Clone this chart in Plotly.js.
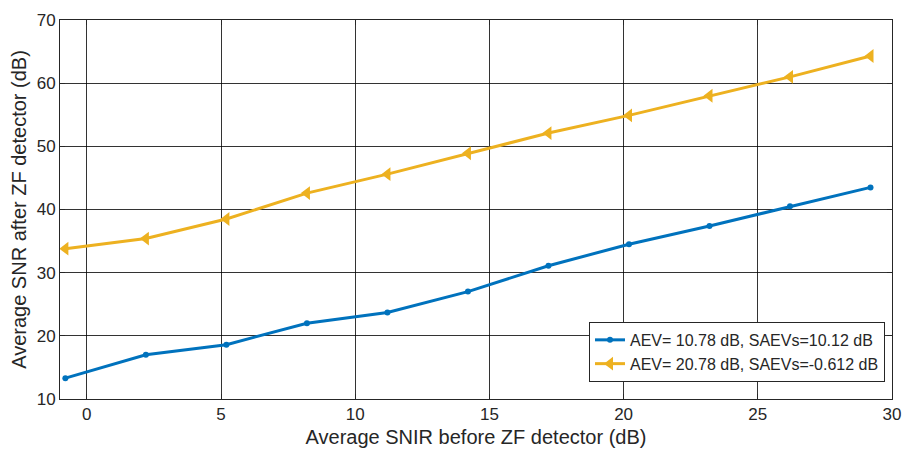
<!DOCTYPE html>
<html>
<head>
<meta charset="utf-8">
<script src="https://cdn.plot.ly/plotly-3.0.1.min.js"></script>
<style>html,body{margin:0;padding:0;background:#fff;}</style>
</head>
<body>
<div id="chart" style="width:904px;height:453px;"></div>
<script>
// Average SNIR before the ZF detector (dB)
const snirIn = [-0.8, 2.2, 5.2, 8.2, 11.2, 14.2, 17.2, 20.2, 23.2, 26.2, 29.2];
// Average SNR after the ZF detector (dB)
const snrAev10 = [13.3, 17.0, 18.6, 22.0, 23.7, 27.0, 31.1, 34.5, 37.4, 40.5, 43.5];
const snrAev20 = [33.8, 35.4, 38.5, 42.6, 45.6, 48.9, 52.1, 54.9, 58.0, 61.0, 64.3];
const seriesNames = [
  'AEV= 10.78 dB, SAEVs=10.12 dB',
  'AEV= 20.78 dB, SAEVs=-0.612 dB'
];
const xTicks = [0, 5, 10, 15, 20, 25, 30];
const yTicks = [10, 20, 30, 40, 50, 60, 70];

const ink = '#262626';
const family = 'Liberation Sans, Arial, sans-serif';

const traces = [
  {
    x: snirIn, y: snrAev10, name: seriesNames[0], type: 'scatter', mode: 'lines+markers',
    line: {color: '#0072BD', width: 3},
    marker: {color: '#0072BD', size: 6, symbol: 'circle'}
  },
  {
    x: snirIn, y: snrAev20, name: seriesNames[1], type: 'scatter', mode: 'lines+markers',
    line: {color: '#EDB120', width: 3},
    marker: {color: '#EDB120', size: 12, symbol: 'triangle-left'}
  }
];

const axisCommon = {
  showline: true, linecolor: ink, linewidth: 1, mirror: 'ticks',
  ticks: 'inside', ticklen: 5, tickcolor: ink, tickwidth: 1,
  showgrid: true, gridcolor: 'rgba(0,0,0,0.8)', gridwidth: 1,
  zeroline: false, tickfont: {size: 17, family: family, color: ink}
};

const layout = {
  width: 904, height: 453,
  margin: {l: 60, r: 12, t: 20, b: 54},
  paper_bgcolor: '#fff', plot_bgcolor: '#fff',
  font: {family: family, color: ink},
  showlegend: true,
  xaxis: Object.assign({}, axisCommon, {
    range: [-1, 30], tickvals: xTicks,
    title: {text: 'Average SNIR before ZF detector (dB)', font: {size: 20, color: ink, family: family}, standoff: 6}
  }),
  yaxis: Object.assign({}, axisCommon, {
    range: [10, 70], tickvals: yTicks,
    title: {text: 'Average SNR after ZF detector (dB)', font: {size: 20, color: ink, family: family}, standoff: 4}
  }),
  legend: {
    x: 0.9916, xanchor: 'right', y: 0.045, yanchor: 'bottom',
    bgcolor: '#fff', bordercolor: ink, borderwidth: 1,
    font: {size: 16, color: ink, family: family},
    itemwidth: 30, tracegroupgap: 0
  }
};

Plotly.newPlot('chart', traces, layout, {displayModeBar: false, staticPlot: true});
</script>
</body>
</html>
